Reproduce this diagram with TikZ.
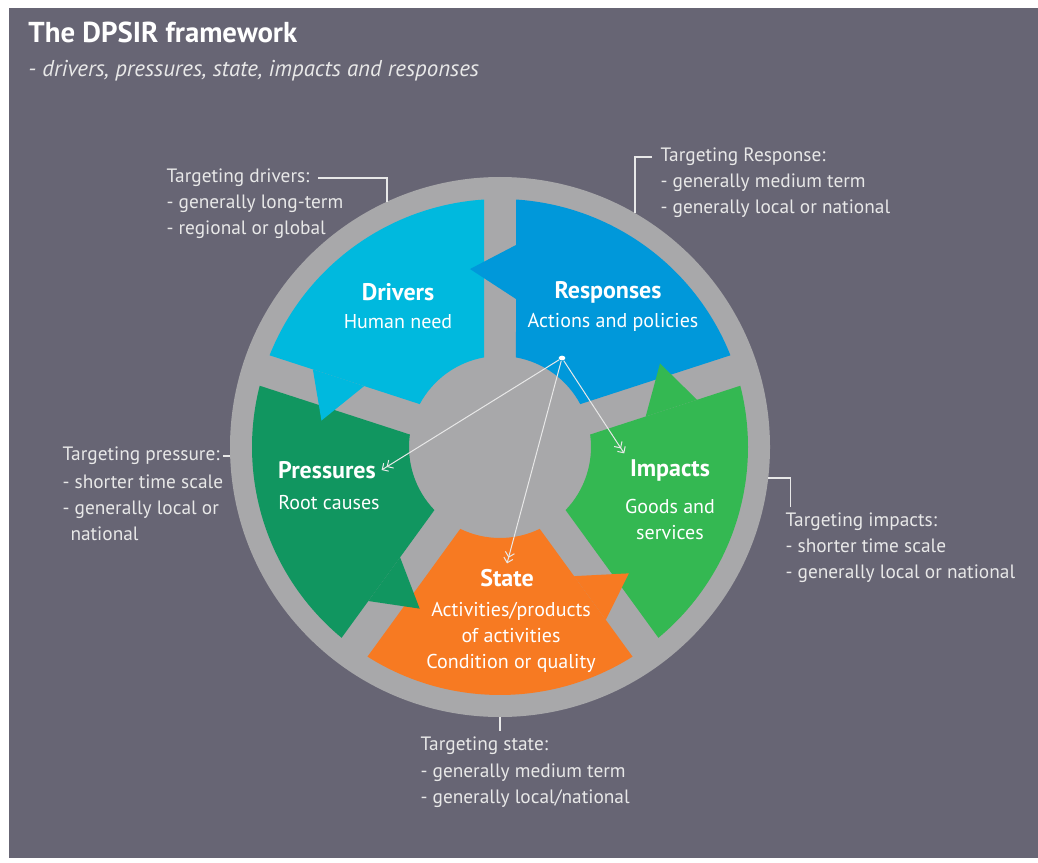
\documentclass[tikz,border=0pt]{standalone}
\usepackage{fontspec}
\setmainfont{PT Sans}
\usetikzlibrary{arrows.meta,shapes.geometric}

\definecolor{bgpurple}{RGB}{103,101,116}
\definecolor{wheelgray}{RGB}{168,168,170}
\definecolor{drvcyan}{RGB}{0,185,222}
\definecolor{rspblue}{RGB}{0,152,218}
\definecolor{impgreen}{RGB}{52,184,82}
\definecolor{prsgreen}{RGB}{17,150,96}
\definecolor{statorange}{RGB}{247,122,34}
\definecolor{labelgray}{RGB}{232,232,232}

\tikzset{every picture/.style={line width=0.75pt}}
\tikzset{
  segtitle/.style={text=white, font=\bfseries\fontsize{18}{21}\selectfont, inner sep=4pt},
  segtext/.style={text=white, align=center, font=\fontsize{15}{19.5}\selectfont, inner sep=0pt},
  tghead/.style={text=labelgray, anchor=west, inner xsep=0pt, inner ysep=4pt, font=\fontsize{14.5}{19.5}\selectfont},
  tglist/.style={text=labelgray, anchor=west, align=left, inner sep=0pt, font=\fontsize{14.5}{19.5}\selectfont},
  leader/.style={draw=labelgray, line width=0.9pt},
  flow/.style={draw=labelgray, line width=0.75pt, -{Straight Barb[length=3.5pt,width=7pt]Straight Barb[length=3.5pt,width=7pt]}},
}

\begin{document}
\begin{tikzpicture}[x=0.75pt,y=0.75pt,yscale=-1,xscale=1]
\useasboundingbox (0,0) rectangle (1038,863);
%Background
\fill[white] (0,0) rectangle (1038,863);
\fill[bgpurple] (9,8) rectangle (1038,858);
%Wheel
\coordinate (wheel) at (500,447);
\fill[wheelgray] (wheel) circle[radius=270];
\begin{scope}[shift={(500,447)},yscale=-1]
  %Segments
  \foreach \ang/\col in {90/drvcyan,162/prsgreen,234/statorange,306/impgreen,18/rspblue}{
    \fill[\col,rotate=\ang] (10.12:91) -- (3.70:248) arc[start angle=3.70,end angle=68.30,radius=248] -- (67.47:202.63) -- (65.83:148.86) -- (61.88:91) arc[start angle=61.88,end angle=10.12,radius=91] -- cycle;
  }
  %Arrow tips
  \foreach \ang/\col in {90/drvcyan,162/prsgreen,234/statorange,306/impgreen,18/rspblue}{
    \fill[\col,rotate=\ang] (67.47:202.63) -- (81.57:180.5) -- (65.83:148.86) -- cycle;
  }
\end{scope}

% Text Node
\node (title) [anchor=west, inner sep=0pt, text=white, font=\bfseries\fontsize{21.6}{24}\selectfont] at (28,32) {The DPSIR framework};
% Text Node
\node (subtitle) [anchor=west, inner sep=0pt, text=labelgray, font=\itshape\fontsize{17.2}{20}\selectfont] at (28,71) {- drivers, pressures, state, impacts and responses};

% Segment texts
\node (drvtitle) [segtitle] at (398,292) {Drivers};
\node (drvtext) [segtext] at (398,322) {Human need};
\node (rsptitle) [segtitle] at (608,292) {Responses};
\node (rsptext) [segtext] at (613,322) {Actions and policies};
\node (prstitle) [segtitle] at (327,470) {Pressures};
\node (prstext) [segtext] at (329,503) {Root causes};
\node (imptitle) [segtitle] at (670,470) {Impacts};
\node (imptext) [segtext] at (670,519) {Goods and\\services};
\node (stattitle) [segtitle] at (507,578) {State};
\node (stattext) [segtext] at (511,637) {Activities/products\\of activities\\Condition or quality};

% Flow arrows
\node (rspdot) [fill=white, ellipse, inner sep=0pt, minimum width=5pt, minimum height=3.5pt] at (562,358) {};
\draw[flow] (rspdot) -- (prstitle.east);
\draw[flow] (rspdot) -- (stattitle.north);
\draw[flow] (rspdot) -- (imptitle.north west);

% Targeting labels
\node (drvhead) [tghead] at (166,178) {Targeting drivers:};
\node (drvlist) [tglist] at (166,217) {- generally long-term\\- regional or global};
\node (rsphead) [tghead] at (660,157) {Targeting Response:};
\node (rsplist) [tglist] at (660,196) {- generally medium term\\- generally local or national};
\node (prshead) [tghead] at (62,456) {Targeting pressure:};
\node (prslist) [tglist] at (62,508) {- shorter time scale\\- generally local or\\\hspace*{6pt}national};
\node (imphead) [tghead] at (785,522) {Targeting impacts:};
\node (implist) [tglist] at (785,561) {- shorter time scale\\- generally local or national};
\node (stathead) [tghead] at (420,746) {Targeting state:};
\node (statlist) [tglist] at (420,786) {- generally medium term\\- generally local/national};

% Leader lines
\coordinate (drvrim) at (387,202);
\coordinate (rsprim) at (635,213);
\coordinate (prsrim) at (230,455);
\coordinate (imprim) at (768,478);
\coordinate (statrim) at (500,717);
\draw[leader] ([xshift=6pt]drvhead.east) -| (drvrim);
\draw[leader] ([xshift=-6pt]rsphead.west) -| (rsprim);
\draw[leader] ([xshift=2pt]prshead.east) -- (prshead.east -| prsrim);
\draw[leader] (imprim) -| ([xshift=4pt]imphead.north west);
\draw[leader] (statrim) -- (statrim |- stathead.north);
\end{tikzpicture}
\end{document}
